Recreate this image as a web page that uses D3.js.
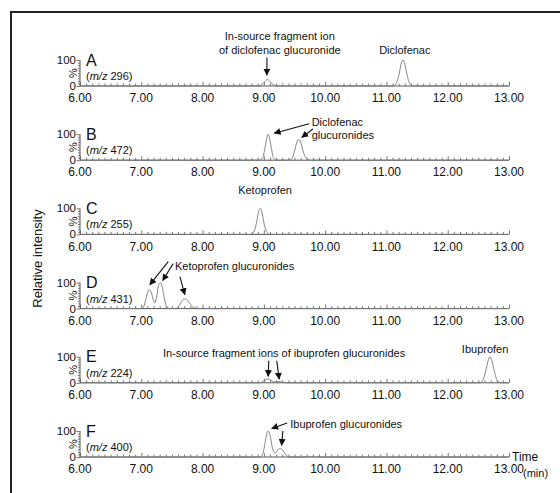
<!DOCTYPE html>
<html>
<head>
<meta charset="utf-8">
<script src="https://cdn.jsdelivr.net/npm/d3@7/dist/d3.min.js"></script>
<style>
  body { margin: 0; background: #fff; }
  svg { display: block; font-family: "Liberation Sans", Arial, sans-serif; }
</style>
</head>
<body>
<div id="chart"></div>
<script>
// panel names, ions and chromatogram traces [time (min), relative intensity %]
const panelLetters = ["A", "B", "C", "D", "E", "F"];
const panelIons = ["296", "472", "255", "431", "224", "400"];
const xTicks = [6, 7, 8, 9, 10, 11, 12, 13];

const traceA = [[6, 0], [8.9, 0], [8.95, 3], [9.0, 12], [9.03, 20], [9.06, 25], [9.09, 20], [9.12, 12], [9.17, 3], [9.22, 0],
  [11.1, 0], [11.16, 10], [11.21, 50], [11.24, 85], [11.27, 100], [11.3, 85], [11.33, 50], [11.38, 10], [11.44, 0], [13, 0]];
const traceB = [[6, 0], [8.93, 0], [8.98, 8], [9.02, 50], [9.05, 88], [9.07, 100], [9.09, 88], [9.12, 50], [9.16, 8], [9.21, 0],
  [9.4, 0], [9.46, 8], [9.5, 35], [9.54, 70], [9.57, 80], [9.6, 70], [9.64, 35], [9.69, 8], [9.76, 0], [13, 0]];
const traceC = [[6, 0], [8.78, 0], [8.83, 8], [8.88, 45], [8.91, 85], [8.94, 100], [8.97, 85], [9.0, 45], [9.05, 8], [9.11, 0], [13, 0]];
const traceD = [[6, 0], [7.0, 0], [7.04, 8], [7.08, 40], [7.11, 68], [7.13, 73], [7.16, 64], [7.2, 30], [7.22, 22], [7.25, 45],
  [7.28, 88], [7.31, 100], [7.34, 85], [7.37, 45], [7.41, 10], [7.46, 0], [7.56, 0], [7.61, 8], [7.66, 28], [7.7, 37],
  [7.74, 35], [7.79, 20], [7.85, 5], [7.92, 0], [13, 0]];
const traceE = [[6, 0], [8.92, 0], [8.98, 4], [9.03, 12], [9.07, 15], [9.11, 11], [9.16, 4], [9.2, 3], [9.25, 5], [9.3, 3], [9.36, 0],
  [12.52, 0], [12.57, 8], [12.62, 45], [12.66, 85], [12.69, 100], [12.72, 85], [12.76, 45], [12.81, 8], [12.87, 0], [13, 0]];
const traceF = [[6, 0], [8.93, 0], [8.98, 10], [9.02, 55], [9.05, 92], [9.07, 100], [9.1, 85], [9.14, 35], [9.18, 15], [9.22, 25],
  [9.27, 33], [9.31, 25], [9.36, 8], [9.42, 0], [9.7, 0], [9.78, 2], [9.86, 0], [13, 0]];
const traces = [traceA, traceB, traceC, traceD, traceE, traceF];

// annotation text: [panel, time, %, text, anchor]
const notes = [
  [0, 9.26, 192, "In-source fragment ion", "middle"],
  [0, 9.26, 138, "of diclofenac glucuronide", "middle"],
  [0, 11.3, 138, "Diclofenac", "middle"],
  [1, 9.78, 146, "Diclofenac", "start"],
  [1, 9.78, 96, "glucuronides", "start"],
  [2, 9.02, 170, "Ketoprofen", "middle"],
  [3, 7.55, 162, "Ketoprofen glucuronides", "start"],
  [4, 9.33, 115, "In-source fragment ions of ibuprofen glucuronides", "middle"],
  [4, 12.61, 131, "Ibuprofen", "middle"],
  [5, 9.43, 127, "Ibuprofen glucuronides", "start"]
];
// arrows: [panel, t1, %1, t2, %2] (from -> to)
const arrows = [
  [0, 9.05, 110, 9.05, 42],
  [1, 9.74, 140, 9.17, 104],
  [1, 9.8, 120, 9.62, 88],
  [3, 7.44, 181, 7.14, 92],
  [3, 7.52, 173, 7.35, 108],
  [3, 7.63, 123, 7.71, 54],
  [4, 9.08, 85, 9.07, 25],
  [4, 9.21, 85, 9.25, 14],
  [5, 9.38, 131, 9.13, 110],
  [5, 9.31, 100, 9.29, 45]
];

const W = 560, H = 493;
const firstBase = 86, spacing = 74.2, plotH = 26;

const svg = d3.select("#chart").append("svg")
  .attr("width", W).attr("height", H);

svg.append("defs").append("marker")
  .attr("id", "head")
  .attr("viewBox", "0 0 10 10")
  .attr("refX", 9).attr("refY", 5)
  .attr("markerWidth", 7).attr("markerHeight", 7)
  .attr("markerUnits", "userSpaceOnUse")
  .attr("orient", "auto")
  .append("path").attr("d", "M0,0L10,5L0,10Z").attr("fill", "#111");

// frame (cropped at right and bottom)
svg.append("path")
  .attr("d", `M11,${H}V12H${W}`)
  .attr("fill", "none").attr("stroke", "#222").attr("stroke-width", 2);

const x = d3.scaleLinear().domain([6, 13]).range([80, 509]);

const line = d3.line().curve(d3.curveMonotoneX);

const yScales = [];

traces.forEach(function(tr, i) {
  const base = firstBase + i * spacing;
  const y = d3.scaleLinear().domain([0, 100]).range([base, base - plotH]);
  yScales.push(y);
  const g = svg.append("g");

  // x axis: minor ticks every 0.1 pointing up
  const xAxis = d3.axisTop(x)
    .tickValues(d3.range(60, 131).map(d => d / 10))
    .tickSize(2.5).tickFormat("");
  const gx = g.append("g").attr("transform", `translate(0,${base})`).call(xAxis);
  gx.selectAll("line").attr("stroke", "#777");
  gx.select(".domain").attr("stroke", "#555").attr("d", `M${x(6)},0H${x(13)}`);
  gx.selectAll(".tick").filter(d => Math.abs(d - Math.round(d)) < 1e-6)
    .select("line").attr("y2", -4);

  g.selectAll(".xl").data(xTicks).join("text")
    .attr("x", d => x(d)).attr("y", base + 12)
    .attr("dy", "0.35em").attr("text-anchor", "middle")
    .attr("font-size", 12).attr("fill", "#111")
    .text(d => d.toFixed(2));

  // y axis
  const yAxis = d3.axisLeft(y).tickValues(d3.range(0, 101, 10)).tickSize(2).tickFormat("");
  const gy = g.append("g").attr("transform", `translate(${x(6)},0)`).call(yAxis);
  gy.selectAll("line").attr("stroke", "#777");
  gy.select(".domain").attr("stroke", "#555").attr("d", `M0,${y(0)}V${y(100)}`);
  gy.selectAll(".tick").filter(d => d === 0 || d === 100).select("line").attr("x2", -3.5);

  g.append("text").attr("x", x(6) - 4).attr("y", y(100)).attr("dy", "0.35em")
    .attr("text-anchor", "end").attr("font-size", 11.5).attr("fill", "#111").text("100");
  g.append("text").attr("x", x(6) - 4).attr("y", y(0)).attr("dy", "0.35em")
    .attr("text-anchor", "end").attr("font-size", 11.5).attr("fill", "#111").text("0");
  g.append("text")
    .attr("transform", `translate(${x(6) - 7},${y(50)}) rotate(-90)`)
    .attr("dy", "0.35em").attr("text-anchor", "middle")
    .attr("font-size", 11).attr("fill", "#111").text("%");

  // panel letter and ion
  g.append("text").attr("x", x(6) + 6).attr("y", y(100)).attr("dy", "0.35em")
    .attr("font-size", 16).attr("fill", "#111").text(panelLetters[i]);
  const ion = g.append("text").attr("x", x(6) + 6).attr("y", y(38)).attr("dy", "0.35em")
    .attr("font-size", 11).attr("fill", "#111");
  ion.append("tspan").text("(");
  ion.append("tspan").attr("font-style", "italic").text("m/z");
  ion.append("tspan").text(" " + panelIons[i] + ")");

  // chromatogram
  g.append("path")
    .attr("d", line(tr.map(d => [x(d[0]), y(d[1])])))
    .attr("fill", "none").attr("stroke", "#777").attr("stroke-width", 0.9);
});

// annotations
svg.selectAll(".note").data(notes).join("text")
  .attr("x", d => x(d[1])).attr("y", d => yScales[d[0]](d[2]))
  .attr("dy", "0.35em").attr("text-anchor", d => d[4])
  .attr("font-size", 11).attr("fill", "#111")
  .text(d => d[3]);

svg.selectAll(".arrow").data(arrows).join("line")
  .attr("x1", d => x(d[1])).attr("y1", d => yScales[d[0]](d[2]))
  .attr("x2", d => x(d[3])).attr("y2", d => yScales[d[0]](d[4]))
  .attr("stroke", "#111").attr("stroke-width", 1.1)
  .attr("marker-end", "url(#head)");

// axis titles
svg.append("text")
  .attr("transform", `translate(37,${(firstBase + firstBase + 5 * spacing - plotH) / 2}) rotate(-90)`)
  .attr("dy", "0.35em").attr("text-anchor", "middle")
  .attr("font-size", 13).attr("fill", "#111").text("Relative intensity");

const lastBase = firstBase + 5 * spacing;
svg.append("text").attr("x", 512).attr("y", lastBase).attr("dy", "0.35em")
  .attr("font-size", 12).attr("fill", "#111").text("Time");
svg.append("text").attr("x", 523).attr("y", lastBase + 16).attr("dy", "0.35em")
  .attr("font-size", 11).attr("fill", "#111").text("(min)");
</script>
</body>
</html>
